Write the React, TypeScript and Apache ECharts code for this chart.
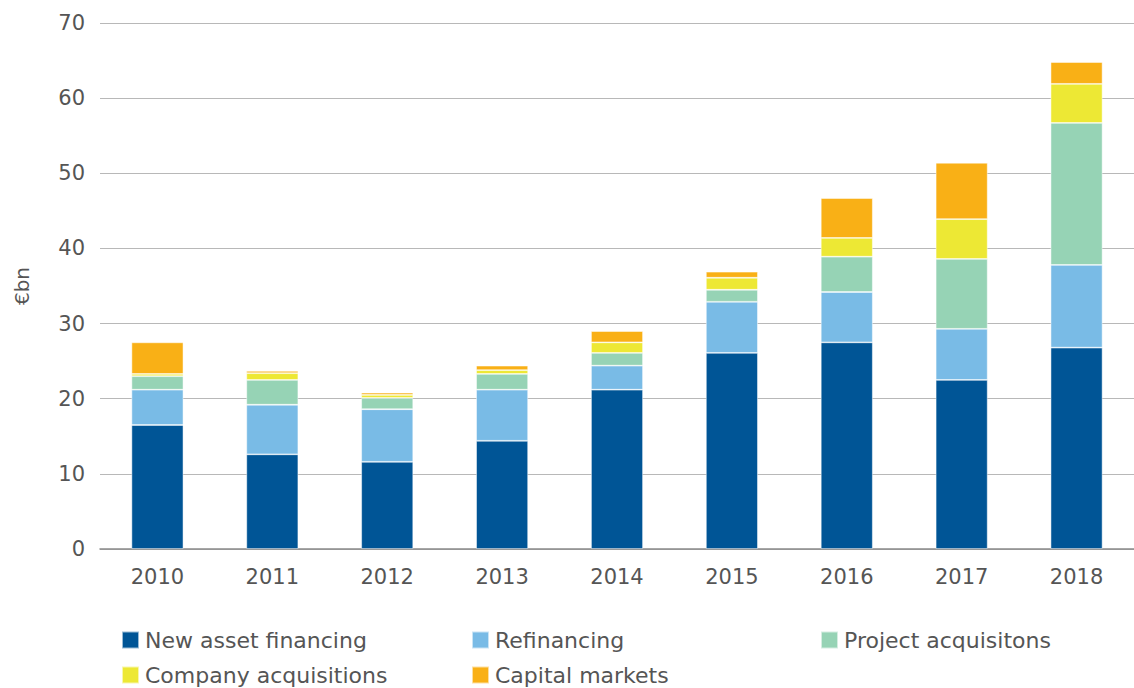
import React, { useEffect, useRef } from "react";
import * as echarts from "echarts";

const years = ["2010", "2011", "2012", "2013", "2014", "2015", "2016", "2017", "2018"];
const newAsset = [16.5, 12.6, 11.6, 14.4, 21.2, 26.1, 27.5, 22.5, 26.8];
const refinancing = [4.7, 6.6, 7.0, 6.8, 3.2, 6.8, 6.7, 6.8, 11.0];
const projectAcq = [1.8, 3.3, 1.5, 2.1, 1.7, 1.6, 4.7, 9.3, 18.9];
const companyAcq = [0.3, 0.9, 0.4, 0.5, 1.4, 1.6, 2.5, 5.3, 5.2];
const capitalMarkets = [4.2, 0.3, 0.3, 0.6, 1.5, 0.8, 5.3, 7.5, 2.9];

const names = ["New asset financing", "Refinancing", "Project acquisitons", "Company acquisitions", "Capital markets"];
const colors = ["#005596", "#79BBE6", "#96D3B5", "#EDE834", "#F9B016"];
const seriesData = [newAsset, refinancing, projectAcq, companyAcq, capitalMarkets];

const FONT = "'DejaVu Sans', sans-serif";

export default function App() {
  const ref = useRef<HTMLDivElement>(null);
  useEffect(() => {
    document.body.style.margin = "0";
    document.body.style.overflow = "hidden";
    if (!ref.current) return;
    const chart = echarts.init(ref.current, undefined, { renderer: "svg" });
    const textStyle = { color: "#555", fontSize: 21, fontFamily: FONT };
    const legendPos = [
      [121, 629],
      [471, 629],
      [820, 629],
      [121, 664],
      [471, 664],
    ];
    const legends = names.map((n, i) => ({
      left: legendPos[i][0],
      top: legendPos[i][1],
      padding: 0,
      itemWidth: 17,
      itemHeight: 17,
      itemGap: 10,
      icon: "rect",
      textStyle: { ...textStyle, fontSize: 22, padding: [0, 0, 0, 1] },
      selectedMode: false,
      data: [n],
    }));
    chart.setOption({
      animation: false,
      textStyle: { fontFamily: FONT },
      grid: { left: 100, right: 0, top: 23, bottom: 139, containLabel: false },
      legend: legends,
      xAxis: {
        type: "category",
        data: years,
        axisTick: { show: false },
        axisLine: { lineStyle: { color: "#8a8a8a", width: 1.5 } },
        axisLabel: { ...textStyle, margin: 17 },
      },
      yAxis: {
        type: "value",
        min: 0,
        max: 70,
        interval: 10,
        name: "€bn",
        nameLocation: "middle",
        nameGap: 68,
        nameTextStyle: { ...textStyle, fontSize: 20 },
        axisLine: { show: false },
        axisTick: { show: false },
        axisLabel: { ...textStyle, margin: 15 },
        splitLine: { lineStyle: { color: "#b8b8b8", width: 1.2 } },
      },
      series: names.map((n, i) => ({
        name: n,
        type: "bar",
        stack: "total",
        barWidth: 52,
        data: seriesData[i],
        itemStyle: { color: colors[i], borderColor: "rgba(255,255,255,0.6)", borderWidth: 0.8 },
      })),
    });
    return () => chart.dispose();
  }, []);
  return <div ref={ref} style={{ width: 1134, height: 688, position: "absolute", left: 0, top: 0 }} />;
}
